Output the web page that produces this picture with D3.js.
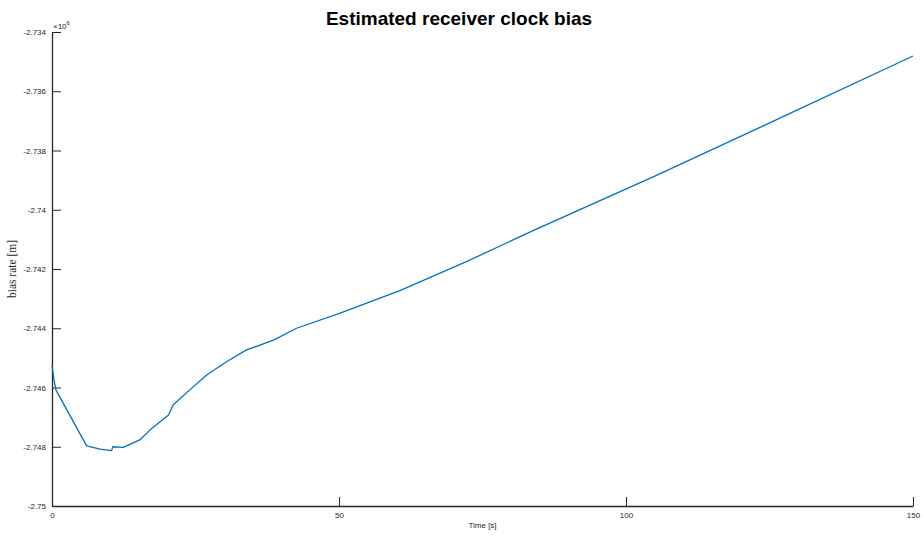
<!DOCTYPE html>
<html>
<head>
<meta charset="utf-8">
<script src="https://cdn.jsdelivr.net/npm/d3@7"></script>
<style>
  html, body { margin: 0; padding: 0; background: #fff; }
  svg { display: block; font-family: "Liberation Sans", Arial, sans-serif; }
  .axis path, .axis line { stroke: #262626; }
  .axis text { fill: #262626; font-size: 8px; }
</style>
</head>
<body>
<div id="chart"></div>
<script>
// time [s] and bias in units of 1e6 m
const timeS = [0, 0.35, 0.7, 6.04, 8.36, 10.4, 10.57, 12.4, 15.3, 17.1, 20.3, 21.1,
  24.0, 26.95, 30.4, 33.9, 38.6, 42.6, 50.2, 60.6, 72.2, 84.1, 105.4, 128.0, 150];
const biasE6 = [-2.74524, -2.74575, -2.74609, -2.74797, -2.74808, -2.74813, -2.748, -2.74802,
  -2.74777, -2.74743, -2.74693, -2.74659, -2.74608, -2.74558, -2.74513, -2.74473, -2.7444,
  -2.744, -2.74349, -2.74273, -2.74175, -2.74068, -2.73883, -2.7368, -2.73481];

const xTicks = [0, 50, 100, 150];
const yTicks = [-2.75, -2.748, -2.746, -2.744, -2.742, -2.74, -2.738, -2.736, -2.734];
const yTickLabels = ['-2.75', '-2.748', '-2.746', '-2.744', '-2.742', '-2.74', '-2.738', '-2.736', '-2.734'];

const W = 923, H = 538;
const margin = { top: 32, right: 10, bottom: 32, left: 52 };
const iw = W - margin.left - margin.right;
const ih = H - margin.top - margin.bottom;

const svg = d3.select('#chart').append('svg')
  .attr('width', W).attr('height', H);

const g = svg.append('g').attr('transform', `translate(${margin.left},${margin.top})`);

const x = d3.scaleLinear().domain([0, 150]).range([0, iw]);
const y = d3.scaleLinear().domain([-2.75, -2.734]).range([ih, 0]);

// axes with inward ticks, no box
g.append('g').attr('class', 'axis')
  .attr('transform', `translate(0,${ih})`)
  .call(d3.axisBottom(x).tickValues(xTicks).tickSize(-9).tickSizeOuter(0).tickPadding(6).tickFormat(d3.format('d')))
  .call(s => s.select('.domain').attr('stroke-width', 1.3));

g.append('g').attr('class', 'axis')
  .call(d3.axisLeft(y).tickValues(yTicks).tickSize(-9).tickSizeOuter(0).tickPadding(6)
    .tickFormat((d, i) => yTickLabels[i]))
  .call(s => s.select('.domain').attr('stroke-width', 1.3));

// exponent
const exp = g.append('text').attr('x', 1).attr('y', -3)
  .attr('fill', '#262626').attr('font-size', 8);
exp.append('tspan').text('\u00d710');
exp.append('tspan').attr('dy', -4).attr('font-size', 6).text('6');

const line = d3.line().x((d, i) => x(timeS[i])).y(d => y(d));
g.append('path')
  .datum(biasE6)
  .attr('fill', 'none')
  .attr('stroke', '#0072BD')
  .attr('stroke-width', 1.3)
  .attr('stroke-linejoin', 'round')
  .attr('d', line);

svg.append('text')
  .attr('x', 459).attr('y', 25)
  .attr('text-anchor', 'middle')
  .attr('font-weight', 'bold')
  .attr('font-size', 19)
  .attr('fill', '#000')
  .text('Estimated receiver clock bias');

svg.append('text')
  .attr('x', margin.left + iw / 2).attr('y', 528)
  .attr('text-anchor', 'middle')
  .attr('font-size', 8)
  .attr('fill', '#262626')
  .text('Time [s]');

svg.append('text')
  .attr('transform', `translate(16,${margin.top + ih / 2}) rotate(-90)`)
  .attr('text-anchor', 'middle')
  .attr('font-family', '"Liberation Serif", "Times New Roman", serif')
  .attr('font-size', 11.5)
  .attr('fill', '#262626')
  .text('bias rate [m]');
</script>
</body>
</html>
